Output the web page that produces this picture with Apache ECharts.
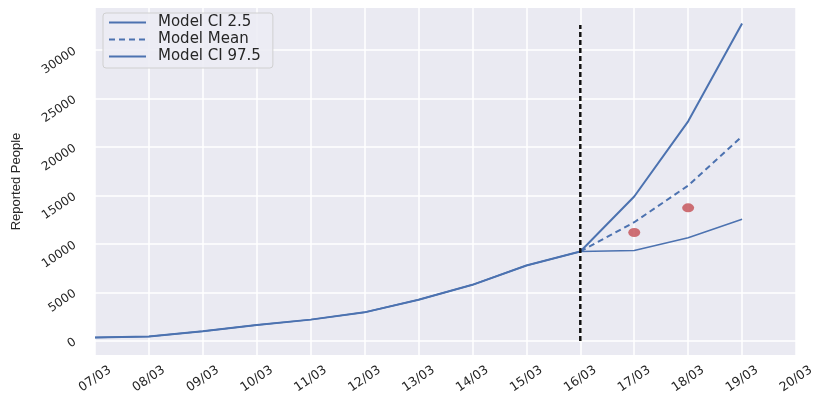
<!DOCTYPE html>
<html><head><meta charset="utf-8">
<script src="https://cdn.jsdelivr.net/npm/echarts@6/dist/echarts.min.js"></script>
<style>html,body{margin:0;padding:0;background:#fff}#c{width:816px;height:400px}</style>
</head><body><div id="c"></div>
<script>
var dates = ['07/03','08/03','09/03','10/03','11/03','12/03','13/03','14/03','15/03','16/03','17/03','18/03','19/03','20/03'];
var ciLow  = [350, 450, 1000, 1650, 2200, 2950, 4250, 5790, 7780, 9230, 9330, 10640, 12560];
var mean   = [null, null, null, null, null, null, null, null, null, 9230, 12250, 16030, 21110];
var ciHigh = [350, 450, 1000, 1650, 2200, 2950, 4250, 5790, 7780, 9230, 14900, 22660, 32760];
var observedIdx = [10, 11];
var observed = [11190, 13730];
var splitIdx = 9;
var splitRange = [0, 32600];
var yTicks = [0, 5000, 10000, 15000, 20000, 25000, 30000];

function pairs(arr){ var o=[]; arr.forEach(function(v,i){ o.push([i, v]); }); return o; }
var txt = '#262626';
var tickFont = 'DejaVu Sans, sans-serif';
var chart = echarts.init(document.getElementById('c'));
chart.setOption({
  animation:false,
  backgroundColor:'#fff',
  grid:{left:95, right:20, top:8, bottom:45, backgroundColor:'#EAEAF2', show:true, borderWidth:0,
        containLabel:false, outerBoundsMode:'none'},
  legend:{
    left:103, top:13, orient:'vertical', itemGap:2, itemWidth:37, itemHeight:14,
    padding:[2,12,4,5],
    backgroundColor:'rgba(236,236,244,0.9)', borderColor:'#d0d0d0', borderWidth:1, borderRadius:3,
    itemStyle:{opacity:0},
    textStyle:{fontFamily:tickFont, fontSize:15, lineHeight:14, color:txt, padding:[0,0,0,7]},
    data:['Model CI 2.5','Model Mean','Model CI 97.5']
  },
  xAxis:{
    type:'value', min:0, max:13, interval:1,
    axisLine:{show:false}, axisTick:{show:false},
    splitLine:{show:true, lineStyle:{color:'#ffffff', width:1.5}},
    axisLabel:{rotate:34, align:'center', verticalAlign:'middle', fontFamily:tickFont, fontSize:12.5, color:txt, margin:24,
      formatter:function(v){ return dates[Math.round(v)] || ''; }}
  },
  yAxis:{
    type:'value', min:-1450, max:34350,
    name:'Reported People', nameLocation:'middle', nameGap:72,
    nameTextStyle:{fontFamily:'Liberation Sans, Arial, sans-serif', fontSize:13, color:txt},
    axisLine:{show:false}, axisTick:{show:false, customValues:yTicks},
    splitLine:{show:true, lineStyle:{color:'#ffffff', width:1.5}},
    axisLabel:{rotate:34, fontFamily:tickFont, fontSize:12, color:txt, margin:20, customValues:yTicks,
      formatter:function(v){ return String(Math.round(v)); }}
  },
  series:[
    {name:'Model CI 2.5', type:'line', data:pairs(ciLow), symbol:'none', z:3,
      lineStyle:{color:'#4C72B0', width:1.5}, itemStyle:{color:'#4C72B0'}},
    {name:'Model Mean', type:'line', data:pairs(mean), symbol:'none', z:3,
      lineStyle:{color:'#4C72B0', width:2, type:[6,4]}, itemStyle:{color:'#4C72B0'}},
    {name:'Model CI 97.5', type:'line', data:pairs(ciHigh), symbol:'none', z:3,
      lineStyle:{color:'#4C72B0', width:2}, itemStyle:{color:'#4C72B0'}},
    {name:'split', type:'line', data:[[splitIdx, splitRange[0]],[splitIdx, splitRange[1]]], symbol:'none', z:4,
      lineStyle:{color:'#111111', width:2.5, type:[5,3]}},
    {name:'observed', type:'scatter', data:observedIdx.map(function(x,i){return [x, observed[i]];}),
      symbol:'circle', symbolSize:[12,9], z:5, itemStyle:{color:'#C44E52'}}
  ]
});
</script></body></html>
